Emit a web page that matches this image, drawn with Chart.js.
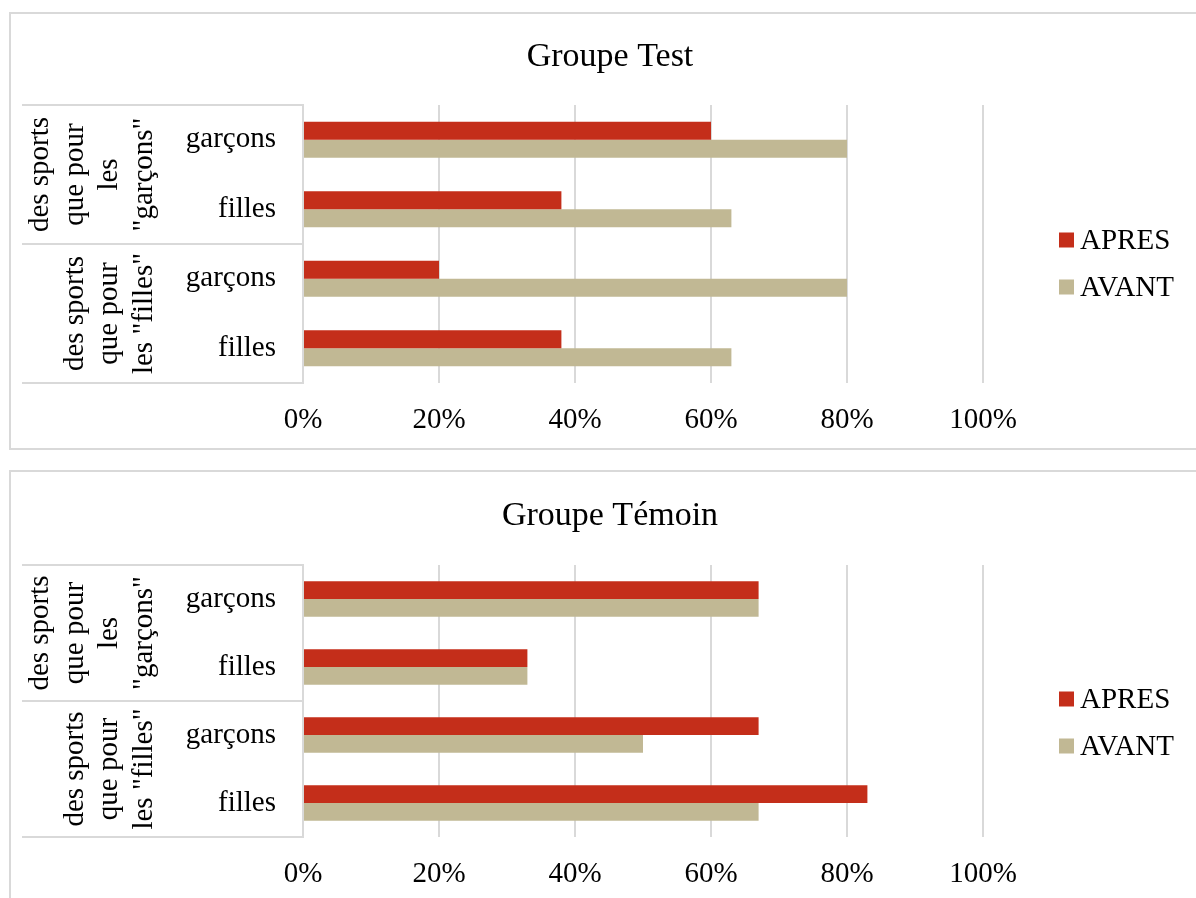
<!DOCTYPE html>
<html>
<head>
<meta charset="utf-8">
<script src="https://cdn.jsdelivr.net/npm/chart.js@4.4.1/dist/chart.umd.min.js"></script>
<style>
  body { margin: 0; background: #fff; overflow: hidden; }
  .panel { position: absolute; left: 9px; width: 1200px; border: 2px solid #d9d9d9; box-sizing: border-box; }
  .box { position: absolute; left: 10px; width: 1186px; }
</style>
</head>
<body>
<div class="panel" style="top:12px;height:438px"></div>
<div class="panel" style="top:470px;height:450px"></div>
<div class="box" style="top:13px;height:436px"><canvas id="chartTest"></canvas></div>
<div class="box" style="top:472px;height:431px"><canvas id="chartTemoin"></canvas></div>
<script>
const categories = ["garçons", "filles", "garçons", "filles"];
const groupLabels = [
  ["des sports", "que pour", "les", "\"garçons\""],
  ["des sports", "que pour", "les \"filles\""]
];
const seriesNames = ["APRES", "AVANT"];
const testApres = [60, 38, 20, 38];
const testAvant = [80, 63, 80, 63];
const temoinApres = [67, 33, 67, 83];
const temoinAvant = [67, 33, 50, 67];
const xTicks = [0, 20, 40, 60, 80, 100];

const RED = "#c42e1a";
const BEIGE = "#c1b894";
const GRID = "#d9d9d9";
const FONT = "'Liberation Serif', 'Times New Roman', serif";

// title, group labels with separators, legend
const decorPlugin = {
  id: "decor",
  afterDraw(chart, args, opts) {
    const ctx = chart.ctx;
    const area = chart.chartArea;
    const y = chart.scales.y;
    ctx.save();

    ctx.fillStyle = "#000";
    ctx.font = "34px " + FONT;
    ctx.textAlign = "center";
    ctx.textBaseline = "middle";
    ctx.fillText(opts.title, 600, 44);

    // separator lines in label area
    const mid = (y.getPixelForValue(1) + y.getPixelForValue(2)) / 2;
    ctx.strokeStyle = GRID;
    ctx.lineWidth = 2;
    [area.top, mid, area.bottom].forEach(function (py) {
      ctx.beginPath();
      ctx.moveTo(12, py);
      ctx.lineTo(area.left, py);
      ctx.stroke();
    });

    // rotated group labels
    ctx.font = "29px " + FONT;
    const bounds = [[area.top, mid], [mid, area.bottom]];
    groupLabels.forEach(function (lines, g) {
      const cy = (bounds[g][0] + bounds[g][1]) / 2;
      lines.forEach(function (txt, i) {
        const cx = 133 - (lines.length - 1 - i) * 34.5;
        ctx.save();
        ctx.translate(cx, cy);
        ctx.rotate(-Math.PI / 2);
        ctx.fillText(txt, 0, 1);
        ctx.restore();
      });
    });

    // legend
    const legY = [227, 274];
    ctx.textAlign = "left";
    chart.data.datasets.forEach(function (ds, i) {
      ctx.fillStyle = ds.backgroundColor;
      ctx.fillRect(1049, legY[i] - 7.5, 15, 15);
      ctx.fillStyle = "#000";
      ctx.fillText(ds.label, 1070, legY[i] + 1);
    });
    ctx.restore();
  }
};

function makeChart(id, title, apres, avant, padTop) {
  return new Chart(document.getElementById(id), {
    type: "bar",
    data: {
      labels: categories,
      datasets: [
        { label: seriesNames[0], data: apres, backgroundColor: RED },
        { label: seriesNames[1], data: avant, backgroundColor: BEIGE }
      ]
    },
    options: {
      indexAxis: "y",
      responsive: true,
      maintainAspectRatio: false,
      animation: false,
      categoryPercentage: 0.52,
      barPercentage: 1,
      layout: { padding: { top: padTop, right: 213, left: 0, bottom: 0 } },
      plugins: {
        legend: { display: false },
        tooltip: { enabled: false },
        decor: { title: title }
      },
      scales: {
        x: {
          min: 0,
          max: 100,
          afterBuildTicks: function (scale) {
            scale.ticks = xTicks.map(function (v) { return { value: v }; });
          },
          afterFit: function (scale) { scale.height = 66; },
          grid: { color: GRID, lineWidth: 2, drawTicks: false },
          border: { display: false },
          ticks: {
            padding: 20,
            color: "#000",
            font: { family: FONT, size: 29 },
            callback: function (v) { return v + "%"; }
          }
        },
        y: {
          afterFit: function (scale) { scale.width = 293; },
          grid: { display: false, drawTicks: false },
          border: { display: true, color: GRID, width: 2 },
          ticks: {
            padding: 27,
            color: "#000",
            font: { family: FONT, size: 29 }
          }
        }
      }
    },
    plugins: [decorPlugin]
  });
}

makeChart("chartTest", "Groupe Test", testApres, testAvant, 92);
makeChart("chartTemoin", "Groupe Témoin", temoinApres, temoinAvant, 93);
</script>
</body>
</html>
